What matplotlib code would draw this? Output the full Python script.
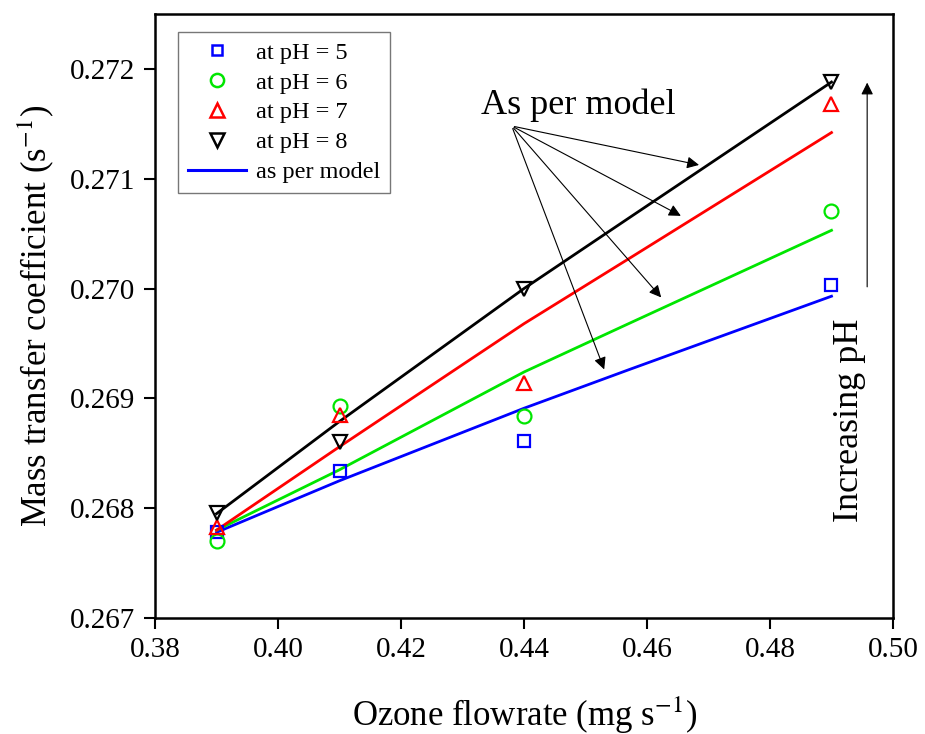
import matplotlib
matplotlib.use('Agg')
import matplotlib.pyplot as plt
from matplotlib.lines import Line2D

plt.rcParams['font.family'] = ['Liberation Serif', 'DejaVu Serif']
plt.rcParams['mathtext.fontset'] = 'stix'

# measured points
flow = [0.39, 0.41, 0.44, 0.49]
k_ph5 = [0.26778, 0.26834, 0.26861, 0.27003]
k_ph6 = [0.26770, 0.26893, 0.26884, 0.27071]
k_ph7 = [0.26783, 0.26885, 0.26914, 0.27168]
k_ph8 = [0.26796, 0.26860, 0.27000, 0.27188]

# model lines
flow_model = [0.39, 0.41, 0.44, 0.457, 0.49]
model_ph5 = [0.26778, 0.26825, 0.26891, 0.26926, 0.26993]
model_ph6 = [0.26780, 0.26835, 0.26924, 0.26968, 0.27053]
model_ph7 = [0.26780, 0.26856, 0.26968, 0.27027, 0.27142]
model_ph8 = [0.26795, 0.26879, 0.27000, 0.27064, 0.27188]

colors = ['#0000ff', '#00e600', '#ff0000', '#000000']
markers = ['s', 'o', '^', 'v']
msizes = [8, 10, 10, 10]
labels = ['at pH = 5', 'at pH = 6', 'at pH = 7', 'at pH = 8']

fig = plt.figure(figsize=(9.25, 7.34), dpi=100)
ax = fig.add_axes([0.1676, 0.158, 0.7978, 0.823])

for ym, c in zip([model_ph5, model_ph6, model_ph7, model_ph8], colors):
    ax.plot(flow_model, ym, color=c, lw=2.0, zorder=2)

for yd, c, m, ms in zip([k_ph5, k_ph6, k_ph7, k_ph8], colors, markers, msizes):
    ax.plot(flow, yd, ls='none', marker=m, ms=ms, mfc='none', mec=c, mew=1.6, zorder=3)

ax.set_xlim(0.38, 0.50)
ax.set_ylim(0.267, 0.2725)
ax.set_xticks([0.38, 0.40, 0.42, 0.44, 0.46, 0.48, 0.50])
ax.set_xticklabels(['0.38', '0.40', '0.42', '0.44', '0.46', '0.48', '0.50'])
ax.set_yticks([0.267, 0.268, 0.269, 0.270, 0.271, 0.272])
ax.set_yticklabels(['0.267', '0.268', '0.269', '0.270', '0.271', '0.272'])
ax.tick_params(direction='out', length=8, width=1.5, labelsize=21, pad=6)
for s in ax.spines.values():
    s.set_linewidth(1.8)

ax.set_xlabel('Ozone flowrate (mg s$^{-1}$)', fontsize=25, labelpad=22)
ax.set_ylabel('Mass transfer coefficient (s$^{-1}$)', fontsize=25, labelpad=10)

handles = [Line2D([], [], ls='none', marker=m, ms=ms * 0.95, mfc='none', mec=c, mew=1.8)
           for c, m, ms in zip(colors, markers, msizes)]
handles.append(Line2D([], [], color='#0000ff', lw=2.2))
leg = ax.legend(handles, labels + ['as per model'], loc='upper left', bbox_to_anchor=(0.015, 0.99),
                fontsize=17.5, frameon=True, fancybox=False, edgecolor='#555555',
                handlelength=2.4, handletextpad=0.4, labelspacing=0.32, borderpad=0.4)
leg.get_frame().set_linewidth(1.0)

# "As per model" arrows
ax.text(0.4488, 0.27167, 'As per model', fontsize=26, ha='center', va='center')
origin = (0.4380, 0.27148)
for tip in [(0.4689, 0.27112), (0.4659, 0.27065), (0.4626, 0.26990), (0.4532, 0.26924)]:
    ax.annotate('', xy=tip, xytext=origin,
                arrowprops=dict(arrowstyle='-|>', color='black', lw=0.8, mutation_scale=18))

# Increasing pH arrow
ax.annotate('', xy=(0.4958, 0.27190), xytext=(0.4958, 0.26999),
            arrowprops=dict(arrowstyle='-|>', color='black', lw=0.8, mutation_scale=18))
ax.text(0.4930, 0.26880, 'Increasing pH', fontsize=26, rotation=90, ha='center', va='center')

fig.savefig('out.png', dpi=100)
